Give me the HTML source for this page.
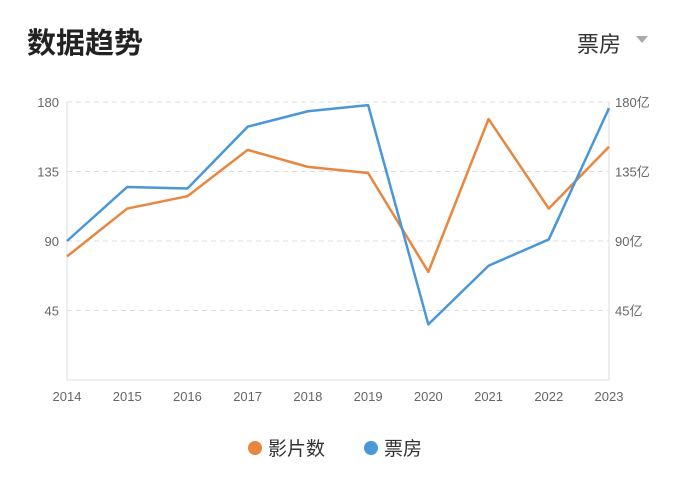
<!DOCTYPE html>
<html><head><meta charset="utf-8"><style>
body{margin:0;width:677px;height:484px;background:#fff;font-family:"Liberation Sans","Noto Sans CJK SC",sans-serif;overflow:hidden;position:relative}
.t{position:absolute;left:27px;top:20px;font-size:29px;font-weight:bold;color:#222}
.dd{position:absolute;left:577px;top:27px;font-size:22px;color:#333}
.tri{position:absolute;left:636px;top:36px;width:0;height:0;border-left:6px solid transparent;border-right:6px solid transparent;border-top:7px solid #aaa}
</style></head><body>
<div class="t">数据趋势</div>
<div class="dd">票房</div>
<div class="tri"></div>
<svg id="c" width="677" height="484" style="position:absolute;left:0;top:0"></svg>
<script>
const years=["2014","2015","2016","2017","2018","2019","2020","2021","2022","2023"];
const films=[80,111,119,149,138,134,70,169,111,151];
const box=[90,125,124,164,174,178,36,74,91,176];
const ticks=[45,90,135,180];
const L=67,R=609,T=102,B=380,MAX=180;
const x=i=>L+i*(R-L)/(years.length-1);
const y=v=>B-v/MAX*(B-T);
const s=document.getElementById('c');const NS='http://www.w3.org/2000/svg';
function mk(t,a,p){const e=document.createElementNS(NS,t);for(const k in a)e.setAttribute(k,a[k]);(p||s).appendChild(e);return e;}
ticks.forEach(v=>{
 const g=mk('line',{x1:L,x2:R,y1:y(v),y2:y(v),stroke:'#ddd','stroke-dasharray':'5,4'});
 
 
 const a=mk('text',{x:L-8,y:y(v)+5,'text-anchor':'end','font-size':13,fill:'#666'});a.textContent=v;
 
 
 const b=mk('text',{x:R+6,y:y(v)+5,'font-size':13,fill:'#666'});b.textContent=v+'亿';
 
 
});
[[L,T,L,B],[R,T,R,B],[L,B,R,B]].forEach(c=>{const l=mk('line',{x1:c[0],y1:c[1],x2:c[2],y2:c[3],stroke:'#ddd'});
 
 });
years.forEach((yr,i)=>{const t=mk('text',{x:x(i),y:401,'text-anchor':'middle','font-size':13,fill:'#666'});t.textContent=yr;
 
 });
function line(d,c,n){const p=mk('polyline',{points:d.map((v,i)=>x(i)+','+y(v)).join(' '),fill:'none',stroke:c,'stroke-width':2.5,'stroke-linejoin':'round'});
 
 }
line(films,'#e8873f','films-line');
line(box,'#4a97d8','box-office-line');
const lg=[['影片数','#e8873f',248],['票房','#4a97d8',364]];
lg.forEach(l=>{const c=mk('circle',{cx:l[2]+7,cy:448,r:7,fill:l[1]});
 
 
 const t=mk('text',{x:l[2]+20,y:455,'font-size':19,fill:'#333'});t.textContent=l[0];
 
 });
</script>
</body></html>
